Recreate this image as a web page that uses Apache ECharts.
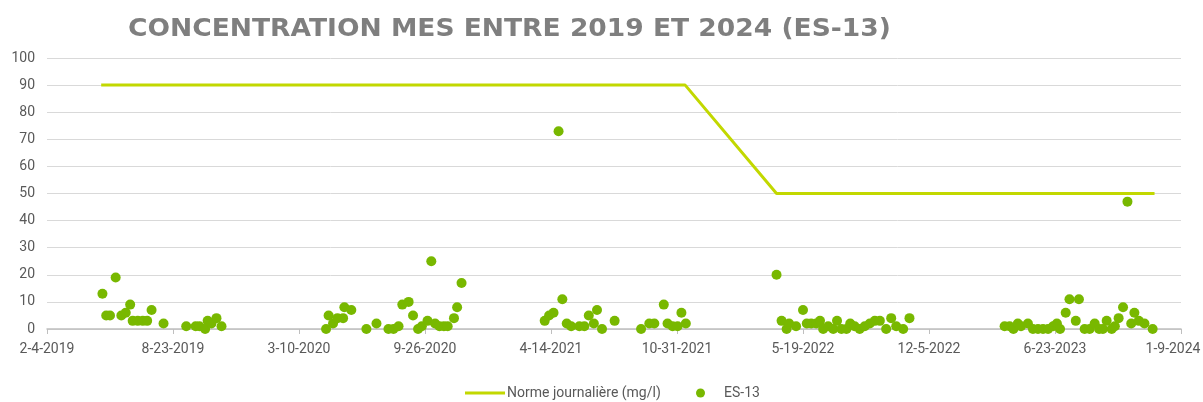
<!DOCTYPE html>
<html>
<head>
<meta charset="utf-8">
<script src="https://cdn.jsdelivr.net/npm/echarts@6/dist/echarts.min.js"></script>
<style>
html,body{margin:0;padding:0;background:#fff;}
#chart{width:1203px;height:402px;}
</style>
</head>
<body>
<div id="chart"></div>
<script>
// ES-13 concentrations (mg/l), date = yyyy-mm-dd
var esDates = [
  '2019-05-03','2019-05-09','2019-05-15','2019-05-24','2019-06-02','2019-06-09','2019-06-16','2019-06-20',
  '2019-06-28','2019-07-06','2019-07-13','2019-07-20','2019-08-08','2019-09-13','2019-09-28','2019-10-04',
  '2019-10-13','2019-10-17','2019-10-23','2019-10-31','2019-11-08',
  '2020-04-22','2020-04-26','2020-05-03','2020-05-10','2020-05-19','2020-05-21','2020-06-01','2020-06-25',
  '2020-07-11','2020-07-30','2020-08-07','2020-08-15','2020-08-21','2020-08-31','2020-09-07','2020-09-15',
  '2020-09-21','2020-09-30','2020-10-06','2020-10-12','2020-10-19','2020-10-26','2020-11-01','2020-11-11',
  '2020-11-16','2020-11-23',
  '2021-04-04','2021-04-11','2021-04-18','2021-04-26','2021-05-02','2021-05-09','2021-05-16','2021-05-29',
  '2021-06-06','2021-06-13','2021-06-21','2021-06-26','2021-07-04','2021-07-24','2021-09-04','2021-09-17',
  '2021-09-25','2021-10-10','2021-10-16','2021-10-24','2021-11-01','2021-11-07','2021-11-14',
  '2022-04-07','2022-04-15','2022-04-23','2022-04-27','2022-05-08','2022-05-19','2022-05-25','2022-06-01',
  '2022-06-09','2022-06-15','2022-06-20','2022-06-28','2022-07-06','2022-07-12','2022-07-19','2022-07-27',
  '2022-08-02','2022-08-09','2022-08-17','2022-08-25','2022-09-02','2022-09-10','2022-09-18','2022-09-28',
  '2022-10-06','2022-10-14','2022-10-25','2022-11-04',
  '2023-04-04','2023-04-12','2023-04-18','2023-04-25','2023-04-30','2023-05-11','2023-05-19','2023-05-27',
  '2023-06-04','2023-06-12','2023-06-20','2023-06-26','2023-07-01','2023-07-10','2023-07-16','2023-07-26',
  '2023-07-31','2023-08-09','2023-08-17','2023-08-25','2023-09-01','2023-09-07','2023-09-13','2023-09-21',
  '2023-09-26','2023-10-02','2023-10-09','2023-10-16','2023-10-22','2023-10-27','2023-11-03','2023-11-12',
  '2023-11-25'
];
var esValues = [
  13,5,5,19,5,6,9,3,
  3,3,3,7,2,1,1,1,
  0,3,2,4,1,
  0,5,2,4,4,8,7,0,
  2,0,0,1,9,10,5,0,
  1,3,25,2,1,1,1,4,
  8,17,
  3,5,6,73,11,2,1,1,
  1,5,2,7,0,3,0,2,
  2,9,2,1,1,6,2,
  20,3,0,2,1,7,2,2,
  2,3,0,1,0,3,0,0,
  2,1,0,1,2,3,3,0,
  4,1,0,4,
  1,1,0,2,1,2,0,0,
  0,0,1,2,0,6,11,3,
  11,0,0,2,0,0,3,0,
  1,4,8,47,2,6,3,2,
  0
];

// Norme journalière
var normDates = ['2019-05-01','2021-11-13','2022-04-07','2023-11-28'];
var normValues = [90, 90, 50, 50];

var yTicks = [0, 100, 10]; // min, max, interval

function toTime(s){
  var p = s.split('-');
  return Date.UTC(+p[0], +p[1] - 1, +p[2]);
}
var DAY = 86400000;
var xMin = Date.UTC(2019, 1, 4);
var xStep = 200 * DAY;
var xMax = xMin + 9 * xStep;

var grey = '#595959';
var font = 'Roboto';

var myChart = echarts.init(document.getElementById('chart'));
var option = {
  animation: false,
  backgroundColor: '#fff',
  // title drawn as graphic text so it can be stretched like the spaced-out original
  graphic: [
    {
      type: 'text',
      x: 128,
      y: 18,
      scaleX: 1.105,
      style: {
        text: 'CONCENTRATION MES ENTRE 2019 ET 2024 (ES-13)',
        font: 'bold 24px "DejaVu Sans"',
        fill: '#7f7f7f'
      }
    }
  ],
  legend: [
    {
      data: ['Norme journalière (mg/l)'],
      left: 460,
      top: 381,
      icon: 'rect',
      itemWidth: 40,
      itemHeight: 3,
      textStyle: { fontFamily: font, fontSize: 14, color: grey, padding: [0, 0, 0, -3] }
    },
    {
      data: ['ES-13'],
      left: 691,
      top: 381,
      icon: 'circle',
      itemWidth: 9,
      itemHeight: 9,
      textStyle: { fontFamily: font, fontSize: 14, color: grey, padding: [0, 0, 0, 14] }
    }
  ],
  grid: { left: 47, right: 22, top: 58, bottom: 73, outerBoundsMode: 'none' },
  xAxis: {
    type: 'value',
    min: xMin,
    max: xMax,
    interval: xStep,
    axisLine: { show: true, lineStyle: { color: '#bfbfbf', width: 1.5 } },
    axisTick: { show: true, length: 5, lineStyle: { color: '#bfbfbf' } },
    splitLine: { show: false },
    axisLabel: {
      color: grey,
      fontFamily: font,
      fontSize: 14,
      margin: 13,
      formatter: function (v) {
        var d = new Date(v);
        var s = (d.getUTCMonth() + 1) + '-' + d.getUTCDate() + '-' + d.getUTCFullYear();
        // last label nudged left so it stays inside the page
        return v >= xMax ? '{last|' + s + '}' : s;
      },
      rich: {
        last: { fontFamily: font, fontSize: 14, color: grey, padding: [0, 16, 0, 0] }
      }
    }
  },
  yAxis: {
    type: 'value',
    min: yTicks[0],
    max: yTicks[1],
    interval: yTicks[2],
    axisLine: { show: false },
    axisTick: { show: false },
    splitLine: { lineStyle: { color: '#d9d9d9', width: 1 } },
    axisLabel: { color: grey, fontFamily: font, fontSize: 14, margin: 12 }
  },
  series: [
    {
      name: 'Norme journalière (mg/l)',
      type: 'line',
      symbol: 'none',
      lineStyle: { color: '#c2d800', width: 3 },
      itemStyle: { color: '#c2d800' },
      data: normDates.map(function (d, i) { return [toTime(d), normValues[i]]; })
    },
    {
      name: 'ES-13',
      type: 'scatter',
      symbolSize: 10,
      itemStyle: { color: '#78b800', opacity: 1 },
      data: esDates.map(function (d, i) { return [toTime(d), esValues[i]]; })
    }
  ]
};
myChart.setOption(option);
</script>
</body>
</html>
